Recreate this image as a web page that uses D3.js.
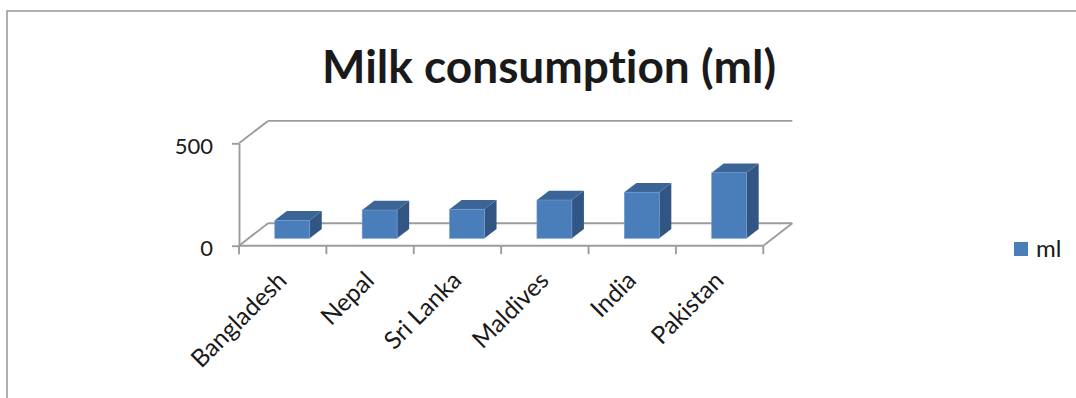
<!DOCTYPE html>
<html>
<head>
<meta charset="utf-8">
<script src="https://cdn.jsdelivr.net/npm/d3@7"></script>
<style>
  html, body { margin: 0; padding: 0; background: #fff; }
  svg { display: block; font-family: Lato, "Open Sans", sans-serif; font-variant-ligatures: none; }
</style>
</head>
<body>
<svg id="chart" width="1076" height="398"></svg>
<script>
// Milk consumption per country (ml)
const categories = ["Bangladesh", "Nepal", "Sri Lanka", "Maldives", "India", "Pakistan"];
const milkMl = [88, 138, 142, 187, 225, 320];
const yTicks = [0, 500];
const seriesName = "ml";
const chartTitle = "Milk consumption (ml)";

const svg = d3.select("#chart");

// 3D oblique geometry: floor depth offset and bar depth slot
const depth = { dx: 29, dy: -22.4 };
const barFront = 0.33, barBack = 0.745;
const shift = f => [depth.dx * f, depth.dy * f];

const x = d3.scaleBand().domain(categories).range([239, 763.3])
  .paddingInner(0.6).paddingOuter(0.3);
const xEdge = d3.scaleLinear().domain([0, categories.length]).range([239, 763.3]);
const y = d3.scaleLinear().domain([0, 500]).range([245.7, 143.3]);

const gray = "#9c9c9c";

// chart area frame
svg.append("rect")
  .attr("x", 7).attr("y", 11).attr("width", 1100).attr("height", 420)
  .attr("fill", "none").attr("stroke", gray).attr("stroke-width", 1.6);

// title
svg.append("text")
  .attr("x", 549).attr("y", 83)
  .attr("text-anchor", "middle")
  .attr("font-size", 46).attr("font-weight", 700).attr("fill", "#1a1a1a")
  .text(chartTitle);

const walls = svg.append("g").attr("fill", "none").attr("stroke", gray).attr("stroke-width", 1.9);
const [bx, by] = shift(1);
const x0 = xEdge(0), x1 = xEdge(categories.length);

// back-wall gridlines and wall top edge
yTicks.forEach(v => {
  walls.append("line")
    .attr("x1", x0 + bx).attr("y1", y(v) + by)
    .attr("x2", x1 + bx).attr("y2", y(v) + by);
});
walls.append("line")
  .attr("x1", x0).attr("y1", y(500)).attr("x2", x0 + bx).attr("y2", y(500) + by);
// floor edges
walls.append("line")
  .attr("x1", x0).attr("y1", y(0)).attr("x2", x0 + bx).attr("y2", y(0) + by);
walls.append("line")
  .attr("x1", x1).attr("y1", y(0)).attr("x2", x1 + bx).attr("y2", y(0) + by);
walls.append("line")
  .attr("x1", x0).attr("y1", y(0)).attr("x2", x1).attr("y2", y(0));

// category ticks at band edges
d3.range(categories.length + 1).forEach(i => {
  walls.append("line")
    .attr("x1", xEdge(i)).attr("y1", y(0))
    .attr("x2", xEdge(i)).attr("y2", y(0) + 8.5);
});

// value axis
const yAxis = svg.append("g")
  .attr("transform", `translate(${x0},0)`)
  .call(d3.axisLeft(y).tickValues(yTicks).tickSize(7).tickSizeOuter(0).tickPadding(19));
yAxis.select(".domain").attr("stroke", gray).attr("stroke-width", 1.9);
yAxis.selectAll(".tick line").attr("stroke", gray).attr("stroke-width", 1.9);
yAxis.selectAll(".tick text")
  .attr("font-family", "Lato, sans-serif").attr("font-size", 22).attr("fill", "#1a1a1a")
  .attr("dy", "0.45em");

// bars
const [fx, fy] = shift(barFront);
const [kx, ky] = shift(barBack);
const bars = svg.append("g");
categories.forEach((c, i) => {
  const v = milkMl[i];
  const l = x(c) + fx, r = x(c) + x.bandwidth() + fx;
  const t = y(v) + fy, b = y(0) + fy;
  const ddx = kx - fx, ddy = ky - fy;
  const g = bars.append("g");
  // right side
  g.append("path")
    .attr("d", `M${r},${t}L${r + ddx},${t + ddy}L${r + ddx},${b + ddy}L${r},${b}Z`)
    .attr("fill", "#325683");
  // top
  g.append("path")
    .attr("d", `M${l},${t}L${l + ddx},${t + ddy}L${r + ddx},${t + ddy}L${r},${t}Z`)
    .attr("fill", "#3b6597");
  // front
  g.append("rect")
    .attr("x", l).attr("y", t).attr("width", r - l).attr("height", b - t)
    .attr("fill", "#4a7ebb").attr("stroke", "#6f9bd1").attr("stroke-width", 0.6);
});

// category labels, rotated
svg.append("g").selectAll("text").data(categories).join("text")
  .attr("transform", d => `translate(${x(d) + x.bandwidth() / 2 + 5.5},282) rotate(-45)`)
  .attr("text-anchor", "end")
  .attr("font-size", 24.5).attr("fill", "#1a1a1a")
  .text(d => d);

// legend
const legend = svg.append("g");
legend.append("rect")
  .attr("x", 1014).attr("y", 242).attr("width", 14).attr("height", 14)
  .attr("fill", "#4a7ebb");
legend.append("text")
  .attr("x", 1036).attr("y", 257)
  .attr("font-size", 24).attr("fill", "#1a1a1a")
  .text(seriesName);
</script>
</body>
</html>
